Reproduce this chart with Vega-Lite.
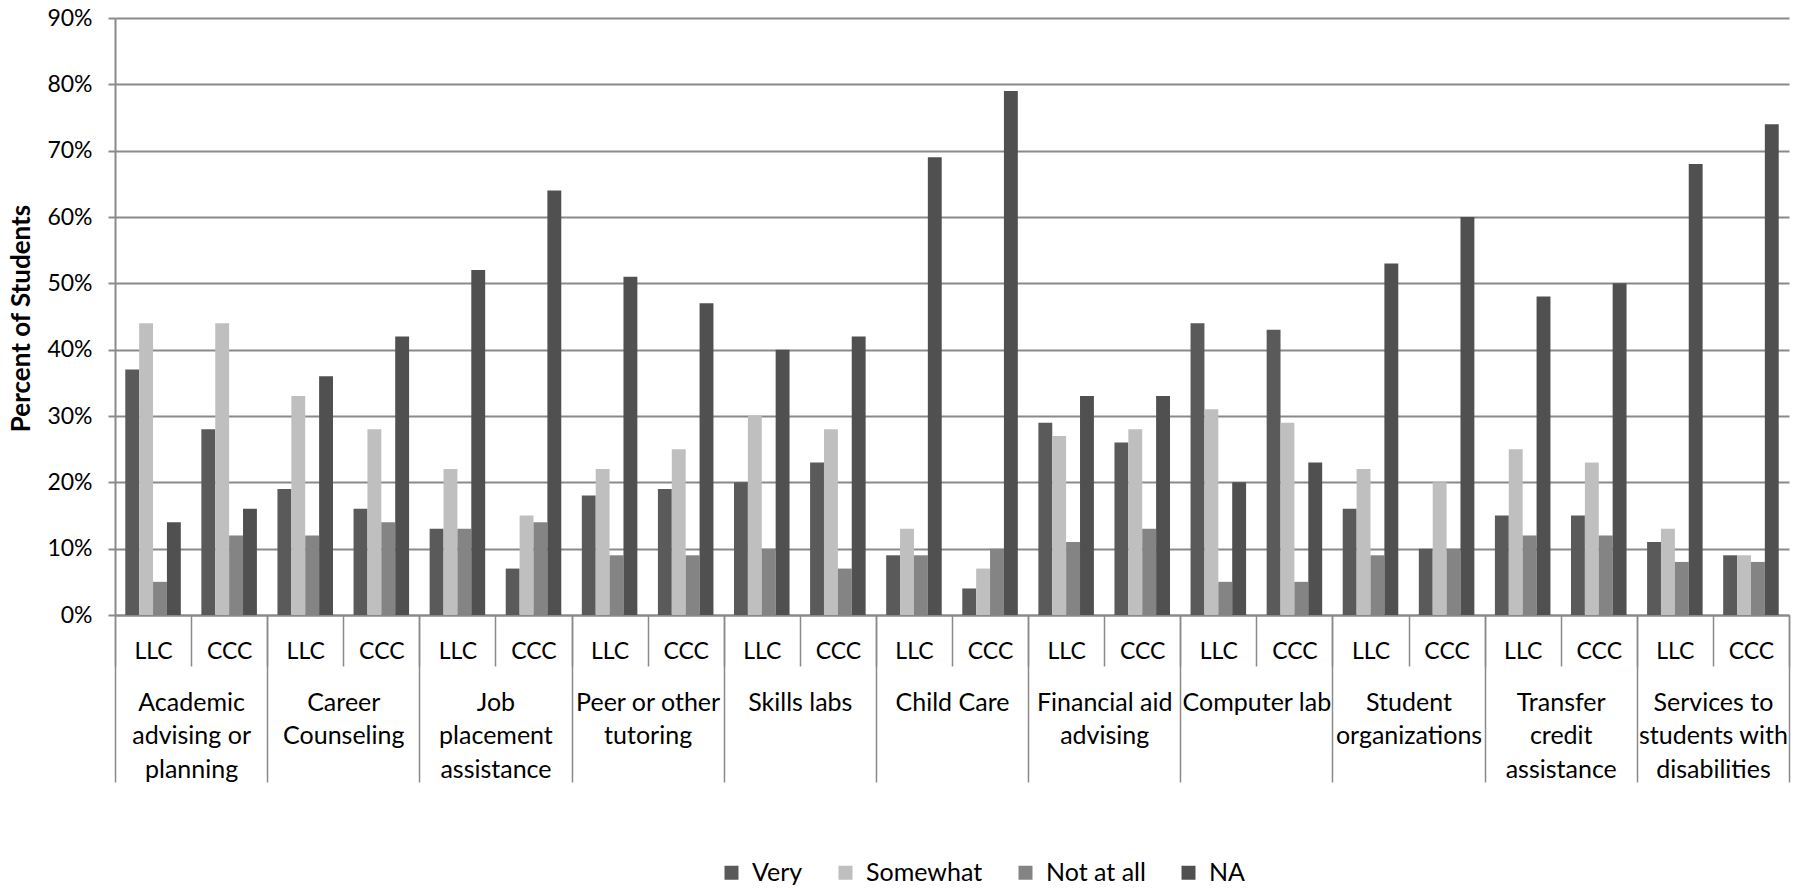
{
  "$schema": "https://vega.github.io/schema/vega-lite/v6.json",
  "width": 1674,
  "height": 597,
  "autosize": {"type": "none"},
  "padding": {"left": 115, "top": 18, "right": 11, "bottom": 273},
  "background": "white",
  "config": {
    "font": "Lato",
    "view": {"stroke": null},
    "axis": {"labelColor": "#000000", "titleColor": "#000000"}
  },
  "data": {
    "values": [
      {"service": "Academic advising or planning", "campus": "LLC", "Very": 37, "Somewhat": 44, "Not at all": 5, "NA": 14},
      {"service": "Academic advising or planning", "campus": "CCC", "Very": 28, "Somewhat": 44, "Not at all": 12, "NA": 16},
      {"service": "Career Counseling", "campus": "LLC", "Very": 19, "Somewhat": 33, "Not at all": 12, "NA": 36},
      {"service": "Career Counseling", "campus": "CCC", "Very": 16, "Somewhat": 28, "Not at all": 14, "NA": 42},
      {"service": "Job placement assistance", "campus": "LLC", "Very": 13, "Somewhat": 22, "Not at all": 13, "NA": 52},
      {"service": "Job placement assistance", "campus": "CCC", "Very": 7, "Somewhat": 15, "Not at all": 14, "NA": 64},
      {"service": "Peer or other tutoring", "campus": "LLC", "Very": 18, "Somewhat": 22, "Not at all": 9, "NA": 51},
      {"service": "Peer or other tutoring", "campus": "CCC", "Very": 19, "Somewhat": 25, "Not at all": 9, "NA": 47},
      {"service": "Skills labs", "campus": "LLC", "Very": 20, "Somewhat": 30, "Not at all": 10, "NA": 40},
      {"service": "Skills labs", "campus": "CCC", "Very": 23, "Somewhat": 28, "Not at all": 7, "NA": 42},
      {"service": "Child Care", "campus": "LLC", "Very": 9, "Somewhat": 13, "Not at all": 9, "NA": 69},
      {"service": "Child Care", "campus": "CCC", "Very": 4, "Somewhat": 7, "Not at all": 10, "NA": 79},
      {"service": "Financial aid advising", "campus": "LLC", "Very": 29, "Somewhat": 27, "Not at all": 11, "NA": 33},
      {"service": "Financial aid advising", "campus": "CCC", "Very": 26, "Somewhat": 28, "Not at all": 13, "NA": 33},
      {"service": "Computer lab", "campus": "LLC", "Very": 44, "Somewhat": 31, "Not at all": 5, "NA": 20},
      {"service": "Computer lab", "campus": "CCC", "Very": 43, "Somewhat": 29, "Not at all": 5, "NA": 23},
      {"service": "Student organizations", "campus": "LLC", "Very": 16, "Somewhat": 22, "Not at all": 9, "NA": 53},
      {"service": "Student organizations", "campus": "CCC", "Very": 10, "Somewhat": 20, "Not at all": 10, "NA": 60},
      {"service": "Transfer credit assistance", "campus": "LLC", "Very": 15, "Somewhat": 25, "Not at all": 12, "NA": 48},
      {"service": "Transfer credit assistance", "campus": "CCC", "Very": 15, "Somewhat": 23, "Not at all": 12, "NA": 50},
      {"service": "Services to students with disabilities", "campus": "LLC", "Very": 11, "Somewhat": 13, "Not at all": 8, "NA": 68},
      {"service": "Services to students with disabilities", "campus": "CCC", "Very": 9, "Somewhat": 9, "Not at all": 8, "NA": 74}
    ]
  },
  "transform": [
    {"fold": ["Very", "Somewhat", "Not at all", "NA"], "as": ["rating", "pct"]},
    {"calculate": "datum.campus + '|' + datum.service", "as": "slot"}
  ],
  "layer": [
    {
      "mark": {"type": "bar"},
      "encoding": {
        "x": {
          "field": "slot",
          "type": "nominal",
          "sort": null,
          "scale": {"paddingInner": 0, "paddingOuter": 0},
          "axis": {
            "orient": "bottom",
            "title": null,
            "grid": false,
            "labelExpr": "split(datum.label, '|')[0]",
            "labelAngle": 0,
            "labelFontSize": 23,
            "labelBaseline": "middle",
            "labelPadding": -15,
            "labelOverlap": false,
            "tickBand": "extent",
            "tickSize": 51,
            "tickColor": "#8a8a8a",
            "tickWidth": 1.5,
            "domainColor": "#8a8a8a",
            "domainWidth": 2
          }
        },
        "xOffset": {
          "field": "rating",
          "type": "nominal",
          "sort": ["Very", "Somewhat", "Not at all", "NA"],
          "scale": {"paddingInner": 0, "paddingOuter": 0.74}
        },
        "y": {
          "field": "pct",
          "type": "quantitative",
          "scale": {"domain": [0, 90], "nice": false},
          "axis": {
            "values": [0, 10, 20, 30, 40, 50, 60, 70, 80, 90],
            "labelExpr": "datum.value + '%'",
            "labelFontSize": 23,
            "labelPadding": 16,
            "tickSize": 7,
            "tickColor": "#8a8a8a",
            "tickWidth": 2,
            "domainColor": "#8a8a8a",
            "domainWidth": 2,
            "grid": true,
            "gridColor": "#8a8a8a",
            "gridWidth": 2,
            "title": "Percent of Students",
            "titleFontSize": 26,
            "titleFontWeight": "bold",
            "titleX": -94,
            "titleY": 300,
            "titleAngle": -90,
            "titleBaseline": "middle",
            "titleAlign": "center"
          }
        },
        "color": {
          "field": "rating",
          "type": "nominal",
          "scale": {
            "domain": ["Very", "Somewhat", "Not at all", "NA"],
            "range": ["#5a5a5a", "#bfbfbf", "#848484", "#505050"]
          },
          "legend": {
            "title": null,
            "orient": "none",
            "direction": "horizontal",
            "legendX": 604,
            "legendY": 842,
            "padding": 0,
            "symbolType": "square",
            "symbolSize": 196,
            "symbolStrokeWidth": 0,
            "labelFontSize": 25,
            "labelColor": "#000000",
            "labelOffset": 8,
            "columnPadding": 30
          }
        }
      }
    },
    {
      "mark": {"type": "bar", "opacity": 0},
      "encoding": {
        "x": {
          "field": "service",
          "type": "nominal",
          "sort": null,
          "scale": {"paddingInner": 0, "paddingOuter": 0},
          "axis": {
            "orient": "bottom",
            "title": null,
            "grid": false,
            "domain": false,
            "labelExpr": "datum.label == 'Academic advising or planning' ? ['Academic', 'advising or', 'planning'] : datum.label == 'Career Counseling' ? ['Career', 'Counseling'] : datum.label == 'Job placement assistance' ? ['Job', 'placement', 'assistance'] : datum.label == 'Peer or other tutoring' ? ['Peer or other', 'tutoring'] : datum.label == 'Financial aid advising' ? ['Financial aid', 'advising'] : datum.label == 'Student organizations' ? ['Student', 'organizations'] : datum.label == 'Transfer credit assistance' ? ['Transfer', 'credit', 'assistance'] : datum.label == 'Services to students with disabilities' ? ['Services to', 'students with', 'disabilities'] : datum.label",
            "labelAngle": 0,
            "labelFontSize": 25,
            "labelLineHeight": 33.5,
            "labelBaseline": "top",
            "labelPadding": -92,
            "labelOverlap": false,
            "labelBound": false,
            "labelLimit": 0,
            "tickBand": "extent",
            "tickSize": 167,
            "tickColor": "#8a8a8a",
            "tickWidth": 1.5
          }
        },
        "y": {"field": "pct", "type": "quantitative", "stack": null}
      }
    }
  ],
  "resolve": {"scale": {"x": "independent"}, "axis": {"x": "independent"}}
}
